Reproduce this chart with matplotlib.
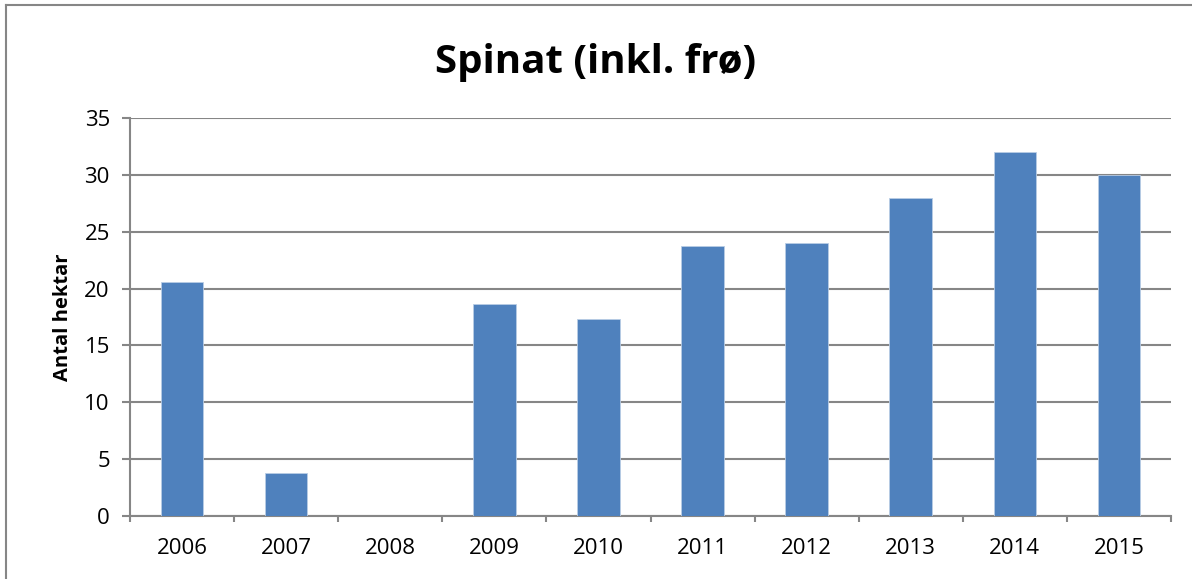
import numpy as np
import matplotlib
matplotlib.use("Agg")
import matplotlib.pyplot as plt
from matplotlib.lines import Line2D

# Data
years = ['2006', '2007', '2008', '2009', '2010', '2011', '2012', '2013', '2014', '2015']
hectares = [20.6, 3.8, 0, 18.6, 17.3, 23.7, 24.0, 28.0, 32.0, 30.0]
y_ticks = [0, 5, 10, 15, 20, 25, 30, 35]

bar_color = '#4F81BD'
grid_color = '#868686'

plt.rcParams['font.family'] = ['Open Sans', 'DejaVu Sans']

fig = plt.figure(figsize=(11.92, 5.79), dpi=100)
ax = fig.add_axes([130 / 1192, 63 / 579, (1171 - 130) / 1192, (516 - 118) / 579])

x = np.arange(len(years))
ax.bar(x, hectares, width=0.41, color=bar_color, edgecolor='#B9CDE5', linewidth=0.6, zorder=3)

ax.set_xlim(-0.5, len(years) - 0.5)
ax.set_ylim(0, 35)
ax.set_yticks(y_ticks)
ax.set_yticklabels([str(v) for v in y_ticks], fontsize=16)
ax.set_xticks(x)
ax.set_xticklabels(years, fontsize=16)
ax.set_xticks(np.arange(-0.5, len(years)), minor=True)
ax.tick_params(axis='x', which='major', length=0, pad=16)
ax.tick_params(axis='x', which='minor', length=4.5, width=1.5, color=grid_color)
ax.tick_params(axis='y', length=5.5, width=1.5, color=grid_color, pad=9)

ax.yaxis.grid(True, color=grid_color, linewidth=1.5, zorder=0)
ax.set_axisbelow(True)
for side in ['top', 'right']:
    ax.spines[side].set_visible(False)
for side in ['left', 'bottom']:
    ax.spines[side].set_color(grid_color)
    ax.spines[side].set_linewidth(1.5)

ax.set_ylabel('Antal hektar', fontsize=14.5, fontweight='bold', labelpad=8)
fig.text(0.5, 1 - 63 / 579, 'Spinat (inkl. frø)', ha='center', va='center',
         fontsize=29, fontweight='bold')

# outer chart border (top and left visible)
fig.add_artist(Line2D([6 / 1192, 6 / 1192], [0, 1 - 5 / 579], color=grid_color, linewidth=1.5))
fig.add_artist(Line2D([6 / 1192, 1], [1 - 5 / 579, 1 - 5 / 579], color=grid_color, linewidth=1.5))

fig.savefig('out.png', dpi=100)
